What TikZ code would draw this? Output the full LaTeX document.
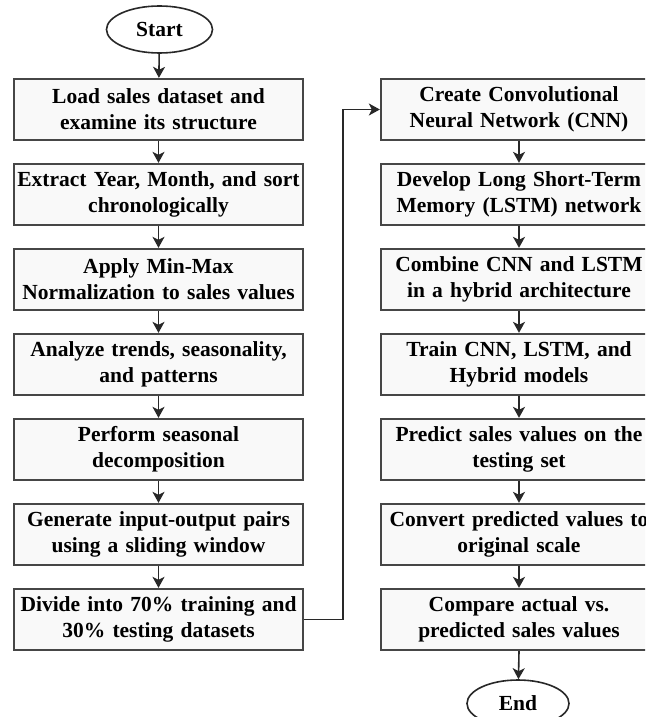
\documentclass[tikz,border=0pt]{standalone}
\usepackage{fontspec}
\setmainfont{Liberation Serif}
\usetikzlibrary{arrows.meta, shapes.geometric}
\definecolor{boxD}{RGB}{70,70,70}
\definecolor{boxF}{RGB}{249,249,249}
\definecolor{arrD}{RGB}{40,40,40}
\tikzset{
  stepbox/.style={draw=boxD, fill=boxF, line width=2.3pt, minimum height=61pt,
    align=center, inner xsep=3pt, font=\fontsize{21.5}{26}\selectfont\bfseries},
  leftbox/.style={stepbox, text width=283pt},
  rightbox/.style={stepbox, text width=290pt},
  termnode/.style={draw=arrD, ellipse, line width=1.6pt, minimum width=106pt,
    minimum height=47pt, inner sep=0pt, font=\fontsize{21.5}{26}\selectfont\bfseries},
  flow/.style={-{Stealth[length=11pt, width=12pt, inset=3pt]}, arrD, line width=1.6pt}
}
\begin{document}
\begin{tikzpicture}[x=1pt, y=-1pt]
\useasboundingbox (0,0) rectangle (645,717);
\clip (0,0) rectangle (645,717);
\fill[white] (0,0) rectangle (645,717);
% left column: data preparation
\node[termnode] (start) at (159.5,29.5) {Start};
\node[leftbox] (l1) at (158.5,109.5) {Load sales dataset and\\ examine its structure};
\node[leftbox] (l2) at (158.5,194.5) {Extract Year, Month, and sort\\ chronologically};
\node[leftbox] (l3) at (158.5,279.5) {Apply Min-Max\\ Normalization to sales values};
\node[leftbox] (l4) at (158.5,364.5) {Analyze trends, seasonality,\\ and patterns};
\node[leftbox] (l5) at (158.5,449.5) {Perform seasonal\\ decomposition};
\node[leftbox] (l6) at (158.5,534.5) {Generate input-output pairs\\ using a sliding window};
\node[leftbox] (l7) at (158.5,619.5) {Divide into 70\% training and\\ 30\% testing datasets};
% right column: models (cut at the right edge)
\node[rightbox] (r1) at (529,109.5) {\hspace*{-20pt}Create Convolutional\\ \hspace*{-20pt}Neural Network (CNN)};
\node[rightbox] (r2) at (529,194.5) {\hspace*{-20pt}Develop Long Short-Term\\ \hspace*{-20pt}Memory (LSTM) network};
\node[rightbox] (r3) at (529,279.5) {\hspace*{-20pt}Combine CNN and LSTM\\ \hspace*{-20pt}in a hybrid architecture};
\node[rightbox] (r4) at (529,364.5) {\hspace*{-20pt}Train CNN, LSTM, and\\ \hspace*{-20pt}Hybrid models};
\node[rightbox] (r5) at (529,449.5) {\hspace*{-20pt}Predict sales values on the\\ \hspace*{-20pt}testing set};
\node[rightbox] (r6) at (529,534.5) {\hspace*{-20pt}Convert predicted values to\\ \hspace*{-20pt}original scale};
\node[rightbox] (r7) at (529,619.5) {\hspace*{-20pt}Compare actual vs.\\ \hspace*{-20pt}predicted sales values};
\node[termnode, minimum width=102pt] (end) at (518,703.5) {End};
% connectors
\draw[flow] (start) -- (l1);
\foreach \a/\b in {1/2,2/3,3/4,4/5,5/6,6/7}
  {\draw[flow] (l\a) -- (l\b);
   \draw[flow] ([xshift=-10pt]r\a.south) -- ([xshift=-10pt]r\b.north);}
\draw[flow] (l7.east) -- ++(39,0) |- (r1.west);
\draw[flow] ([xshift=-10pt]r7.south) -- (end);
\end{tikzpicture}
\end{document}
